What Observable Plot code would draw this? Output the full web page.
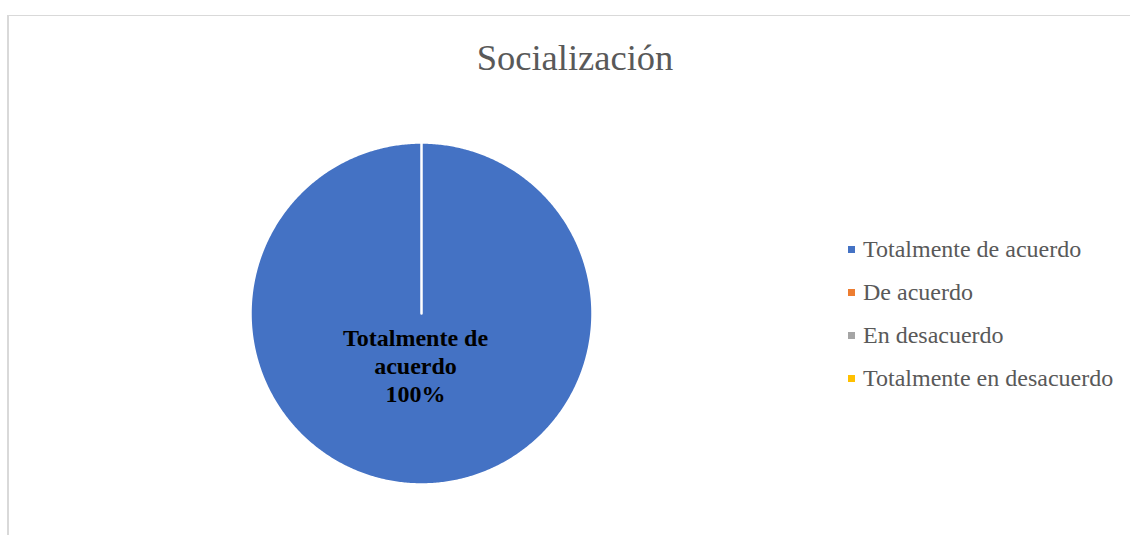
<!DOCTYPE html>
<html>
<head>
<meta charset="utf-8">
<script src="https://cdn.jsdelivr.net/npm/d3@7"></script>
<script src="https://cdn.jsdelivr.net/npm/@observablehq/plot@0.6"></script>
<style>
  html, body { margin: 0; padding: 0; background: #fff; }
  #wrap { position: relative; width: 1130px; height: 535px; overflow: hidden; }
  #frame { position: absolute; left: 7px; top: 15px; right: -5px; bottom: -5px;
           border-top: 1.5px solid #d9d9d9; border-left: 2px solid #d9d9d9; }
  #chart { position: absolute; left: 0; top: 0; }
  #chart figure { margin: 0; }
  #chart h2 { margin: 0; height: 95px; box-sizing: border-box; padding: 36px 0 0 20px;
              line-height: 36px; font: 400 36.5px "Liberation Serif", "Times New Roman", serif;
              color: #595959; text-align: center; }
  #legend { position: absolute; left: 848px; top: 227.7px; }
  .row { display: flex; align-items: center; height: 43px; }
  .sw { width: 7px; height: 7px; margin-right: 8px; }
  .lab { font: 400 24px "Liberation Serif", "Times New Roman", serif; color: #595959;
         line-height: 43px; white-space: nowrap; }
</style>
</head>
<body>
<div id="wrap">
  <div id="frame"></div>
  <div id="chart"></div>
  <div id="legend"></div>
</div>
<script>
const title = "Socialización";
const categories = ["Totalmente de acuerdo", "De acuerdo", "En desacuerdo", "Totalmente en desacuerdo"];
const values = [100, 0, 0, 0];
const colors = ["#4472C4", "#ED7D31", "#A5A5A5", "#FFC000"];

const rows = categories.map((c, i) => ({category: c, value: values[i]}));
const total = d3.sum(values);
const arcs = d3.pie().sort(null).value(d => d.value)(rows);

// slice outlines in unit coordinates (angle 0 at 12 o'clock, clockwise)
const pts = [];
for (const a of arcs) {
  if (a.endAngle - a.startAngle <= 0) continue;
  const cat = a.data.category;
  pts.push({category: cat, x: 0, y: 0});
  const n = Math.max(2, Math.ceil((a.endAngle - a.startAngle) / (Math.PI / 360)));
  for (let k = 0; k <= n; k++) {
    const t = a.startAngle + (a.endAngle - a.startAngle) * k / n;
    pts.push({category: cat, x: Math.sin(t), y: Math.cos(t)});
  }
}
const labels = arcs.filter(a => a.data.value > 0).map(a => {
  const m = (a.startAngle + a.endAngle) / 2;
  return {
    x: 0.30 * Math.sin(m), y: 0.30 * Math.cos(m),
    text: a.data.category.replace(/ (\S+)$/, "\n$1") + "\n" + Math.round(100 * a.data.value / total) + "%"
  };
});

const plot = Plot.plot({
  title,
  width: 1130,
  height: 440,
  marginLeft: 250,
  marginRight: 538,
  marginTop: 47,
  marginBottom: 51,
  x: {domain: [-1, 1], axis: null},
  y: {domain: [-1, 1], axis: null},
  color: {domain: categories, range: colors},
  style: {background: "transparent", overflow: "visible"},
  marks: [
    Plot.line(pts, {x: "x", y: "y", z: "category", fill: "category", stroke: "white",
                    strokeWidth: 2.5, curve: "linear-closed"}),
    Plot.text(labels, {x: "x", y: "y", text: "text", dx: -6, fontSize: 24, fontWeight: "bold",
                       fontFamily: "Liberation Serif", fill: "black", lineHeight: 1.16,
                       textAnchor: "middle"})
  ]
});
document.getElementById("chart").appendChild(plot);

const color = plot.scale("color");
const legend = document.getElementById("legend");
for (const c of categories) {
  const row = document.createElement("div");
  row.className = "row";
  const sw = document.createElement("div");
  sw.className = "sw";
  sw.style.background = color.apply(c);
  const lab = document.createElement("span");
  lab.className = "lab";
  lab.textContent = c;
  row.append(sw, lab);
  legend.appendChild(row);
}
</script>
</body>
</html>
